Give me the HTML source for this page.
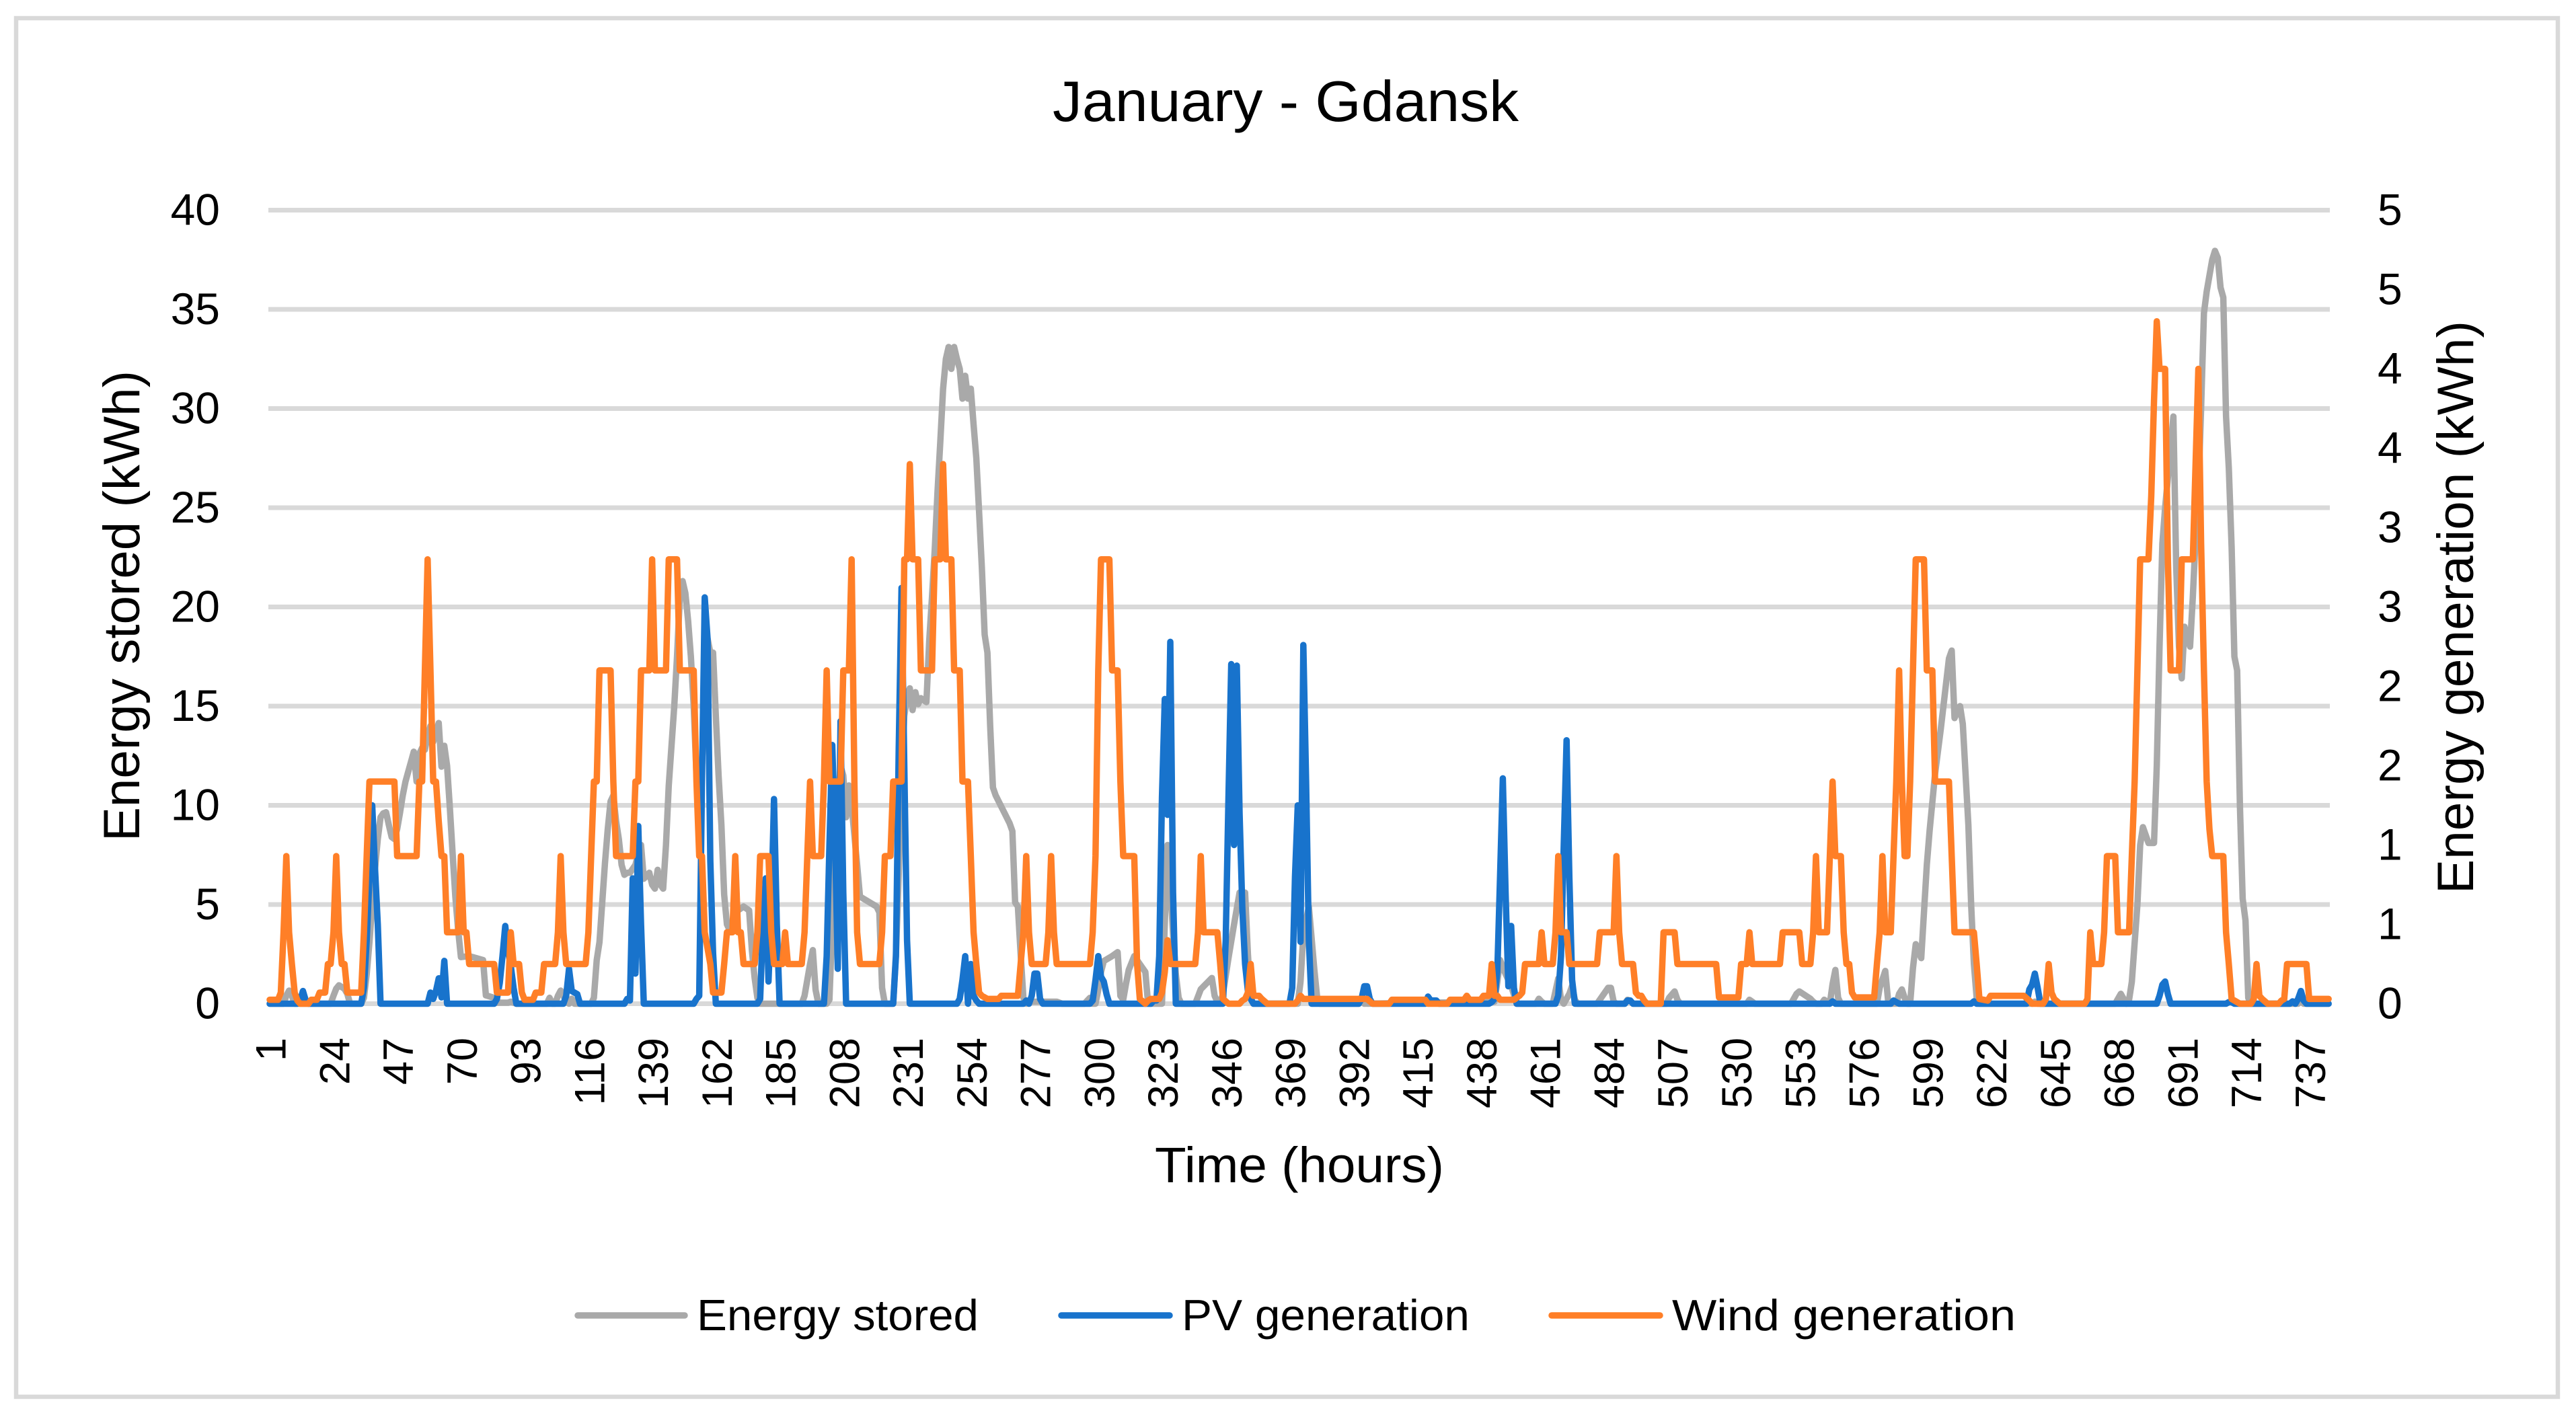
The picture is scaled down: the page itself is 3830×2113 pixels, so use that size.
<!DOCTYPE html>
<html lang="en">
<head>
<meta charset="utf-8">
<title>January - Gdansk</title>
<style>
html,body{margin:0;padding:0;background:#fff;}
svg{display:block;}
text{font-family:"Liberation Sans",sans-serif;fill:#000;}
</style>
</head>
<body>
<svg id="chart" xmlns="http://www.w3.org/2000/svg" width="3830" height="2113" viewBox="0 0 3830 2113">
  <rect x="0" y="0" width="3830" height="2113" fill="#ffffff"/>
  <rect x="24" y="27" width="3779" height="2050" fill="#ffffff" stroke="#d9d9d9" stroke-width="6.5"/>
  <g id="grid"></g>
  <g id="series"></g>
  <g id="xlabels"></g>
  <g id="ylabels"></g>
  <g id="y2labels"></g>
  <text x="1565" y="180" font-size="85" textLength="693" lengthAdjust="spacingAndGlyphs">January - Gdansk</text>
  <text transform="translate(207,1251) rotate(-90)" font-size="76" textLength="700" lengthAdjust="spacingAndGlyphs">Energy stored (kWh)</text>
  <text transform="translate(3677,1329) rotate(-90)" font-size="76" textLength="852" lengthAdjust="spacingAndGlyphs">Energy generation (kWh)</text>
  <text x="1717" y="1758" font-size="74" textLength="430" lengthAdjust="spacingAndGlyphs">Time (hours)</text>
  <g>
    <g>
      <line x1="859" y1="1956" x2="1018" y2="1956" stroke="#a9a9a9" stroke-width="9.5" stroke-linecap="round"/>
      <text x="1036" y="1978" font-size="65" textLength="419" lengthAdjust="spacingAndGlyphs">Energy stored</text>
    </g>
    <g>
      <line x1="1578" y1="1956" x2="1739" y2="1956" stroke="#1873cc" stroke-width="9.5" stroke-linecap="round"/>
      <text x="1757" y="1978" font-size="65" textLength="428" lengthAdjust="spacingAndGlyphs">PV generation</text>
    </g>
    <g>
      <line x1="2307" y1="1956" x2="2468" y2="1956" stroke="#ff7f27" stroke-width="9.5" stroke-linecap="round"/>
      <text x="2486" y="1978" font-size="65" textLength="511" lengthAdjust="spacingAndGlyphs">Wind generation</text>
    </g>
  </g>
</svg>
<script>
const xTickLabels = [1,24,47,70,93,116,139,162,185,208,231,254,277,300,323,346,369,392,415,438,461,484,507,530,553,576,599,622,645,668,691,714,737];
const yLeftTicks = [0,5,10,15,20,25,30,35,40];
const yRightTicks = [0,0.5,1,1.5,2,2.5,3,3.5,4,4.5,5];

const storedHours = [1,6,7,8,9,10,23,24,25,26,28,29,30,34,35,36,37,38,39,40,41,42,43,44,45,46,47,48,49,50,51,52,53,54,55,56,57,58,59,60,61,62,63,64,65,66,67,68,69,70,73,78,79,82,83,87,88,90,101,102,103,104,105,106,107,108,109,110,111,117,118,119,120,122,123,124,125,126,127,128,129,130,131,133,134,135,136,138,139,140,141,142,143,144,145,146,147,148,149,150,151,152,153,154,155,156,157,158,159,160,161,162,163,164,165,166,167,168,170,172,174,175,176,177,178,193,194,195,196,197,198,199,202,203,204,205,206,207,208,209,210,211,212,213,214,220,221,222,223,226,227,228,229,230,231,232,233,234,235,236,237,238,239,240,241,242,243,244,245,246,247,248,249,250,251,252,253,254,255,256,257,258,259,260,261,262,263,268,269,270,271,272,273,274,276,285,287,295,297,298,299,300,301,302,305,307,308,309,310,311,313,317,318,323,324,325,326,327,328,329,330,335,337,341,342,343,344,345,347,349,351,353,354,355,356,372,373,374,376,377,378,379,380,394,395,396,443,444,445,447,449,451,458,459,460,461,464,466,467,468,470,471,472,473,480,482,484,485,486,487,490,491,492,493,505,506,508,509,510,534,535,536,537,550,552,553,557,558,559,561,562,563,564,565,566,567,568,581,582,584,585,586,588,589,590,591,592,593,594,595,597,599,600,602,604,607,608,609,611,612,614,615,616,617,618,637,638,639,667,669,671,672,673,675,676,677,679,681,682,683,684,685,686,687,688,689,690,691,692,694,695,696,697,698,699,700,701,702,703,704,705,706,707,708,709,710,711,712,713,714,715,716,733,734,735,744];
const storedValues = [0,0,0.4,0.66,0.4,0,0,0.4,0.76,0.93,0.75,0.5,0,0,0.3,1.5,3.1,5,6.8,8.3,9.4,9.6,9.65,9,8.4,8.3,8.8,9.6,10.5,11.2,11.7,12.2,12.7,11.2,12.6,12.9,12.8,13.5,14,13.2,13.7,14.15,11.95,13,12,9.9,7.6,5.4,3.7,2.35,2.4,2.2,0.42,0.3,0.05,0.05,0.1,0,0,0.3,0,0,0.4,0.66,0.4,0.1,0,0.25,0,0,0.3,2.2,3.1,7.1,8.8,10.2,10.5,9.2,8.3,7,6.5,6.6,6.6,7,7.6,8,6.3,6.6,6,5.8,6.75,6,5.8,8,11,13,15,17.5,20.5,21.3,20.7,19.3,17.5,15,11.5,9,12,15.5,18.4,17.7,17.7,14.5,11.5,9,5.5,4,3.7,4.1,4.7,4.9,4.7,2.7,1.3,0.3,0,0,0.4,1.2,2,2.7,0.7,0,0,0.2,4,8,10,12,11.5,9.4,11,10,8.5,7,5.4,4.9,4.6,0.8,0,0,2.5,6.5,11.5,14.5,15.5,15.9,14.8,15.7,15.1,15.4,15.3,15.2,18.3,20.5,22.9,25.8,28.3,31,32.5,33.1,32,33.1,32.5,32,30.5,31.65,30.5,31,29.2,27.5,24.8,22,18.6,17.7,14,10.9,10.5,9.1,8.7,5.1,4.9,2.5,0.3,0,0.1,0.1,0,0,0.3,0,0,0.7,1.6,2.15,2.4,2.6,0.4,0.2,1,1.7,2.4,1.6,0,0,4,8,6,3.5,1.5,0.3,0,0,0.73,1.3,0.4,0.1,0,0.5,2.3,4,5.6,5.6,2.5,0.3,0,0,1.1,3.5,4.9,3.3,1.7,0.3,0,0,0.2,0,0.1,1.1,2.2,1.5,0.9,0,0,0.25,0.1,0,0,1.27,0.2,0,0.5,0.9,0.2,0,0,0.4,0.8,0.8,0.1,0,0,0.2,0.15,0,0,0.3,0.62,0.2,0,0,0.2,0.1,0,0,0.5,0.62,0.25,0.1,0,0,0.2,0.1,0,1,1.7,0.3,0,0,0.8,1.65,0.2,0,0,0.5,0.72,0.3,0,0,1.8,3,2.3,7,8.7,11.6,13.8,17.4,17.8,14.4,15,14.1,9,5,2,0.3,0,0,0.1,0,0,0.5,0,0.2,1.1,5,8,8.9,8.1,8.1,12,18,23.2,25,26.5,28,29.6,22,18,16.4,19,18,20.5,23.5,25.8,30,34.8,35.9,36.7,37.5,37.95,37.6,36.1,35.6,29.6,27,23,17.5,16.8,10,5.3,4.2,0.3,0,0,0.2,0,0];

const pvHours = [1,11,12,13,14,15,34,35,36,37,38,39,40,41,58,59,60,61,62,63,64,65,82,83,84,85,86,87,88,89,90,107,108,109,110,111,112,113,129,130,131,132,133,134,135,136,154,155,156,157,158,159,160,161,162,177,178,179,180,181,182,183,184,185,201,202,203,204,205,206,207,208,209,226,227,228,229,230,231,232,249,250,251,252,253,254,255,256,257,273,274,275,276,277,278,279,280,297,298,299,300,301,302,303,304,319,320,321,322,323,324,325,326,327,328,345,346,347,348,349,350,351,352,353,354,355,356,369,370,371,372,373,374,375,376,377,394,395,396,397,398,399,418,419,420,421,422,423,441,442,443,444,445,446,447,448,449,450,451,465,466,467,468,469,470,471,472,490,491,492,493,564,565,566,586,587,588,589,615,616,617,635,636,637,638,639,640,682,683,684,685,686,687,707,708,709,710,730,731,732,733,734,735,736,744];
const pvValues = [0,0,0.02,0.08,0.02,0,0,0.1,0.4,0.8,1.25,0.85,0.5,0,0,0.07,0.03,0.08,0.16,0.04,0.27,0,0,0.03,0.13,0.3,0.49,0.33,0.24,0.1,0,0,0.05,0.22,0.08,0.07,0.06,0,0,0.03,0.02,0.79,0.19,1.12,0.5,0,0,0.03,0.05,1.4,2.56,2.3,0.9,0.32,0,0,0.03,0.5,0.79,0.14,0.6,1.29,0.5,0,0,0.3,1,1.63,1.05,0.22,1.78,0.7,0,0,0.3,1.6,2.62,1.5,0.4,0,0,0.03,0.15,0.3,0,0.25,0.05,0.02,0,0,0.02,0,0.05,0.19,0.19,0.03,0,0,0.02,0.15,0.3,0.17,0.14,0.06,0,0,0.02,0.02,0.3,1.3,1.92,1.19,2.28,0.7,0,0,0.4,1.3,2.14,1,2.13,1.2,0.6,0.25,0.08,0.03,0,0,0.1,0.8,1.25,0.39,2.26,1.4,0.4,0,0,0.03,0.11,0.11,0.03,0,0,0.045,0.02,0.02,0.02,0,0,0.01,0.03,0.2,0.8,1.42,0.7,0.11,0.49,0.1,0,0,0.05,0.3,1,1.66,0.8,0.15,0,0,0.02,0.02,0,0,0.015,0,0,0.02,0.01,0,0,0.015,0,0,0.09,0.12,0.19,0.1,0,0,0.05,0.12,0.14,0.06,0,0,0.01,0.01,0,0,0.015,0,0.03,0.08,0.02,0,0];

const windHours = [1,4,5,6,7,8,9,10,11,12,15,16,18,19,21,22,23,24,25,26,27,28,29,30,34,35,36,37,46,47,54,55,56,57,58,59,60,61,62,63,64,65,69,70,71,72,73,82,83,87,88,89,91,92,93,96,97,99,100,104,105,106,107,108,115,116,117,118,119,120,124,125,126,132,133,134,135,138,139,140,144,145,148,149,150,154,155,156,157,158,160,161,164,165,166,168,169,170,171,172,173,176,177,178,181,182,183,186,187,188,193,194,195,196,197,200,201,202,203,207,208,210,211,212,213,214,221,222,223,225,226,229,230,231,232,233,235,236,240,241,243,244,245,247,248,250,251,253,254,255,256,257,258,260,264,265,271,272,273,274,275,276,281,282,283,284,285,297,298,299,300,301,304,305,307,308,309,313,314,315,317,318,319,322,323,324,325,326,335,336,337,338,343,344,345,347,351,352,353,354,355,356,358,359,361,371,372,373,374,397,399,405,406,418,419,426,427,432,433,434,438,439,441,442,443,444,445,450,452,453,454,459,460,461,464,465,466,467,469,470,480,481,486,487,488,489,493,494,495,496,497,498,503,504,508,509,510,523,524,531,532,534,535,536,546,547,553,554,557,558,559,560,563,564,565,566,568,569,570,571,572,573,580,581,582,583,584,586,587,588,589,590,591,592,593,594,595,598,599,601,602,603,607,608,609,616,617,618,621,622,634,636,637,641,642,643,644,645,647,656,657,658,659,662,663,664,667,668,672,673,674,675,676,679,680,681,682,683,685,686,687,690,691,695,696,697,698,699,700,701,702,706,707,708,709,712,716,717,718,719,720,722,726,727,728,729,736,737,744];
const windValues = [0.025,0.025,0.07,0.45,0.93,0.45,0.25,0.07,0.02,0,0,0.025,0.025,0.07,0.07,0.25,0.25,0.45,0.93,0.45,0.25,0.25,0.07,0.07,0.07,0.45,0.93,1.4,1.4,0.93,0.93,1.4,1.4,2.1,2.8,2.1,1.4,1.4,1.15,0.93,0.93,0.45,0.45,0.93,0.45,0.45,0.25,0.25,0.07,0.07,0.45,0.25,0.25,0.07,0.025,0.025,0.07,0.07,0.25,0.25,0.45,0.93,0.45,0.25,0.25,0.45,0.93,1.4,1.4,2.1,2.1,1.4,0.93,0.93,1.4,1.4,2.1,2.1,2.8,2.1,2.1,2.8,2.8,2.1,2.1,2.1,1.4,0.93,0.93,0.45,0.25,0.07,0.07,0.25,0.45,0.45,0.93,0.45,0.45,0.25,0.25,0.25,0.45,0.93,0.93,0.45,0.25,0.25,0.45,0.25,0.25,0.45,0.93,1.4,0.93,0.93,1.4,2.1,1.4,1.4,2.1,2.1,2.8,1.4,0.45,0.25,0.25,0.45,0.93,0.93,1.4,1.4,2.8,2.8,3.4,2.8,2.8,2.1,2.1,2.8,2.8,3.4,2.8,2.8,2.1,2.1,1.4,1.4,0.93,0.45,0.25,0.07,0.05,0.03,0.03,0.05,0.05,0.25,0.45,0.93,0.45,0.25,0.25,0.45,0.93,0.45,0.25,0.25,0.45,0.93,2.1,2.8,2.8,2.1,2.1,1.4,0.93,0.93,0.25,0.03,0,0.02,0.03,0.03,0.07,0.2,0.4,0.25,0.25,0.45,0.93,0.45,0.45,0.25,0.03,0,0,0.02,0.03,0.07,0.25,0.05,0.05,0.03,0,0,0.02,0.05,0.03,0.03,0,0,0.025,0.025,0,0,0.025,0.025,0.05,0.025,0.025,0.05,0.05,0.25,0.05,0.05,0.025,0.025,0.05,0.07,0.25,0.25,0.45,0.25,0.25,0.45,0.93,0.45,0.45,0.25,0.25,0.45,0.45,0.93,0.45,0.25,0.25,0.07,0.05,0.05,0.02,0,0,0.45,0.45,0.25,0.25,0.25,0.04,0.04,0.25,0.25,0.45,0.25,0.25,0.45,0.45,0.25,0.25,0.45,0.93,0.45,0.45,0.93,1.4,0.93,0.93,0.45,0.25,0.25,0.07,0.04,0.04,0.25,0.45,0.93,0.45,0.45,0.93,1.4,2.1,1.4,0.93,0.93,1.4,2.1,2.8,2.8,2.1,2.1,1.4,1.4,1.4,0.93,0.45,0.45,0.25,0.03,0.02,0.05,0.05,0.02,0,0,0.03,0.25,0.07,0.03,0,0,0.03,0.45,0.25,0.25,0.45,0.93,0.93,0.45,0.45,0.93,1.4,2.1,2.8,2.8,3.2,3.8,4.3,4,4,2.8,2.1,2.1,2.8,2.8,3.4,4,2.9,2.1,1.4,1.1,0.93,0.93,0.45,0.25,0.03,0,0,0.03,0.25,0.05,0.03,0,0,0.02,0.03,0.25,0.25,0.03,0.03];

const plotLeft = 399, plotRight = 3464, plotTop = 312.5, plotBottom = 1492.5;
const firstHourX = 401, pxPerHour = 4.12;
const yLeftMax = 40, yRightMax = 5;

function xScale(hour){ return firstHourX + (hour - 1) * pxPerHour; }
function yLeft(v){ return plotBottom - (v / yLeftMax) * (plotBottom - plotTop); }
function yRight(v){ return plotBottom - (v / yRightMax) * (plotBottom - plotTop); }

const NS = 'http://www.w3.org/2000/svg';
const gridGroup = document.getElementById('grid');
const seriesGroup = document.getElementById('series');
const xGroup = document.getElementById('xlabels');
const yGroup = document.getElementById('ylabels');
const y2Group = document.getElementById('y2labels');

yLeftTicks.forEach(function(v){
  const line = document.createElementNS(NS, 'line');
  
  
  line.setAttribute('x1', plotLeft);
  line.setAttribute('x2', plotRight);
  line.setAttribute('y1', yLeft(v));
  line.setAttribute('y2', yLeft(v));
  line.setAttribute('stroke', '#d9d9d9');
  line.setAttribute('stroke-width', '7');
  gridGroup.appendChild(line);

  const t = document.createElementNS(NS, 'text');
  
  
  t.setAttribute('x', 327);
  t.setAttribute('y', yLeft(v) + 22);
  t.setAttribute('text-anchor', 'end');
  t.setAttribute('font-size', '66');
  t.textContent = String(v);
  yGroup.appendChild(t);
});

yRightTicks.forEach(function(v){
  const t = document.createElementNS(NS, 'text');
  
  
  t.setAttribute('x', 3535);
  t.setAttribute('y', yRight(v) + 22);
  t.setAttribute('font-size', '66');
  t.textContent = String(Math.floor(v + 0.5));
  y2Group.appendChild(t);
});

xTickLabels.forEach(function(h){
  const t = document.createElementNS(NS, 'text');
  
  
  t.setAttribute('transform', 'translate(' + (xScale(h) + 23.5) + ',1543) rotate(-90)');
  t.setAttribute('text-anchor', 'end');
  t.setAttribute('font-size', '63');
  t.textContent = String(h);
  xGroup.appendChild(t);
});

function pointsFor(hours, values, yFn){
  return hours.map(function(h, i){
    return xScale(h).toFixed(1) + ',' + yFn(values[i]).toFixed(1);
  }).join(' ');
}

const storedLine = document.createElementNS(NS, 'polyline');


storedLine.setAttribute('points', pointsFor(storedHours, storedValues, yLeft));
storedLine.setAttribute('fill', 'none');
storedLine.setAttribute('stroke', '#a9a9a9');
storedLine.setAttribute('stroke-width', '9.5');
storedLine.setAttribute('stroke-linejoin', 'round');
storedLine.setAttribute('stroke-linecap', 'round');
seriesGroup.appendChild(storedLine);

const pvLine = document.createElementNS(NS, 'polyline');


pvLine.setAttribute('points', pointsFor(pvHours, pvValues, yRight));
pvLine.setAttribute('fill', 'none');
pvLine.setAttribute('stroke', '#1873cc');
pvLine.setAttribute('stroke-width', '9.5');
pvLine.setAttribute('stroke-linejoin', 'round');
pvLine.setAttribute('stroke-linecap', 'round');
seriesGroup.appendChild(pvLine);

const windLine = document.createElementNS(NS, 'polyline');


windLine.setAttribute('points', pointsFor(windHours, windValues, yRight));
windLine.setAttribute('fill', 'none');
windLine.setAttribute('stroke', '#ff7f27');
windLine.setAttribute('stroke-width', '9.5');
windLine.setAttribute('stroke-linejoin', 'round');
windLine.setAttribute('stroke-linecap', 'round');
seriesGroup.appendChild(windLine);
</script>
</body>
</html>
